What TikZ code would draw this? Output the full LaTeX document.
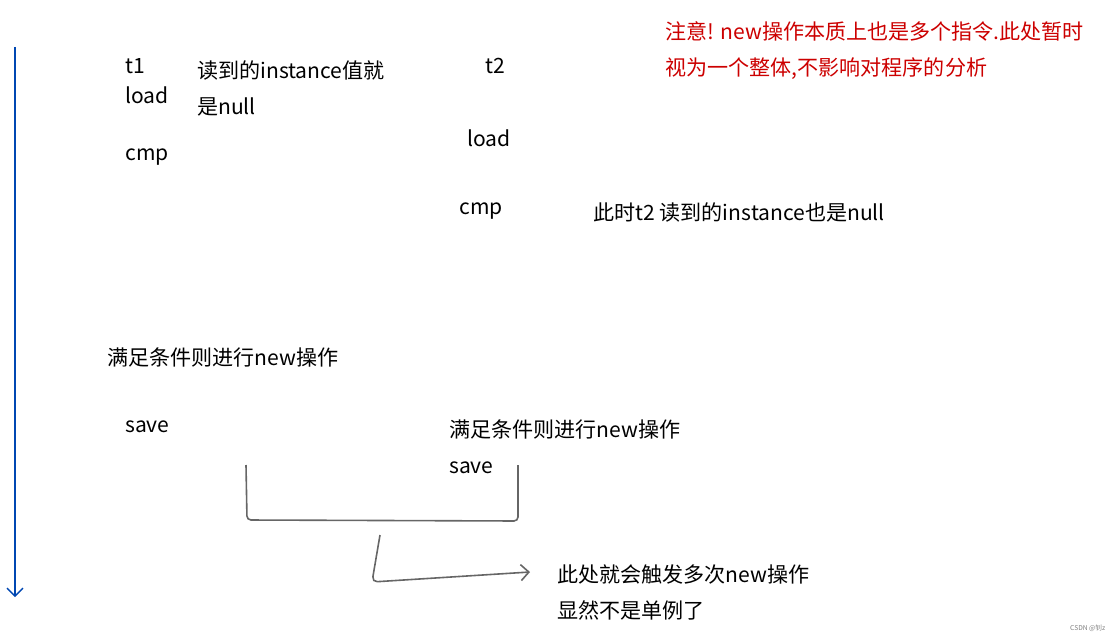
\documentclass[tikz,border=0pt]{standalone}
\usepackage{fontspec}
\setmainfont{Noto Sans CJK SC}
\usetikzlibrary{arrows.meta}
\begin{document}
\begin{tikzpicture}[x=0.75pt,y=-0.75pt,
  t/.style={anchor=west,inner sep=0pt,font=\fontsize{15.8pt}{27pt}\selectfont,align=left},
  red/.style={t,text=red!80!black}]
\useasboundingbox (0,0) rectangle (1120,642);
\coordinate (a0) at (15,47); \coordinate (a1) at (15,597);
\draw[blue!60!cyan!70!black,line width=1pt,-{Straight Barb[length=6pt]}] (a0) -- (a1);
\node[t] (t1) at (125,66) {t1};
\node[t] (l1) at (125,95) {load};
\node[t] (c1) at (125,157) {cmp};
\node[t] (r1) at (197,88) {读到的instance值就\\是null};
\node[t] (t2) at (485,66) {t2};
\node[t] (l2) at (467,138) {load};
\node[t] (c2) at (459,211) {cmp};
\node[t] (n2) at (593,213) {此时t2 读到的instance也是null};
\node[red] (w) at (665,51) {注意! new操作本质上也是多个指令.此处暂时\\视为一个整体,不影响对程序的分析};
\node[t] (m1) at (107,358) {满足条件则进行new操作};
\node[t] (s1) at (125,427) {save};
\node[t] (m2) at (449,447) {满足条件则进行new操作\\save};
\node[t] (res) at (557,592) {此处就会触发多次new操作\\显然不是单例了};
\node[font=\tiny,text=gray,anchor=east] (csdn) at (1110,628) {CSDN @钊z};
\coordinate (b0) at (246,465); \coordinate (b1) at (518,465);
\draw[gray!80!black,line width=1.2pt,rounded corners=3pt] (b0) -- (247,520) -- (518,521) -- (b1);
\coordinate (c0) at (380,535); \coordinate (c1e) at (530,572);
\draw[gray!80!black,line width=1.2pt,rounded corners=4pt,-{Straight Barb[length=6pt]}] (c0) -- (372,582) -- (c1e);
\end{tikzpicture}
\end{document}
